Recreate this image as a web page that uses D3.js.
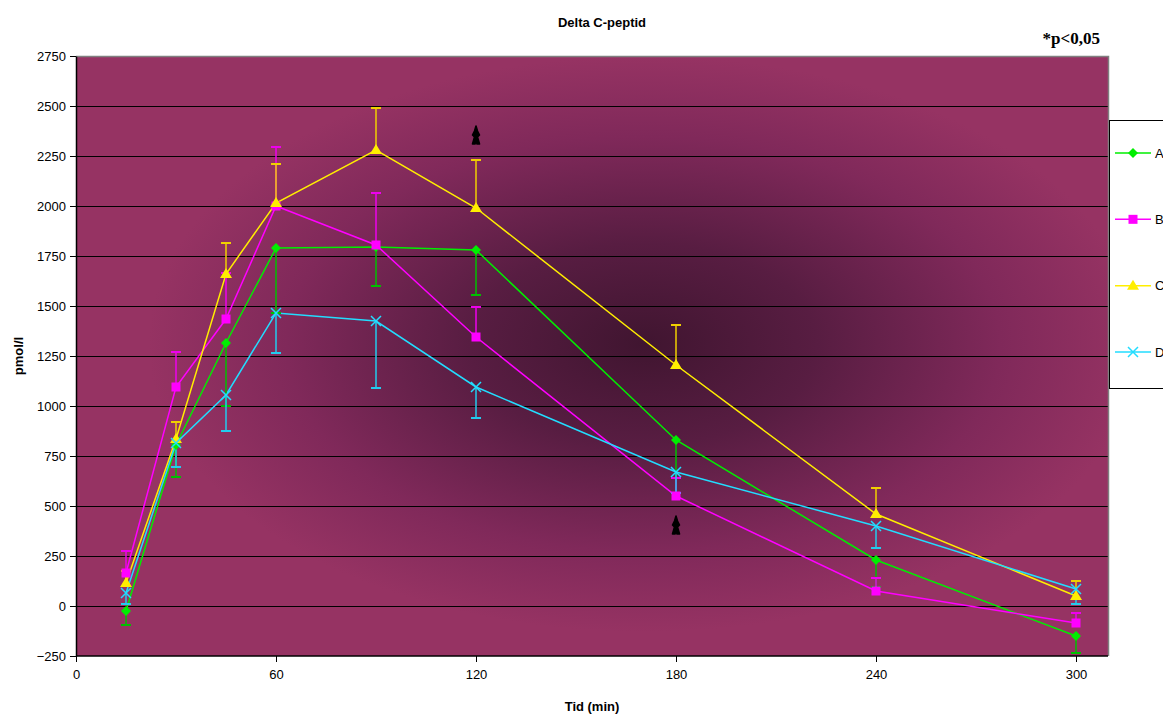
<!DOCTYPE html>
<html>
<head>
<meta charset="utf-8">
<script src="https://cdn.jsdelivr.net/npm/d3@7"></script>
<style>
  html, body { margin: 0; padding: 0; background: #fff; }
  svg { display: block; }
</style>
</head>
<body>
<svg id="chart" width="1163" height="718"></svg>
<script>
// Sampling times (min)
const times = [15, 30, 45, 60, 90, 120, 180, 240, 300];

// Mean delta C-peptide per group (pmol/l)
const seriesA = [-25, 805, 1315, 1790, 1795, 1780, 830, 230, -150];
const seriesB = [165, 1095, 1435, 2000, 1805, 1345, 550, 75, -85];
const seriesC = [115, 835, 1660, 2015, 2280, 1990, 1205, 460, 50];
const seriesD = [65, 815, 1055, 1465, 1425, 1095, 670, 400, 85];

// Error bar lengths (one-sided)
const errA = [70, 160, 315, 325, 195, 225, 190, 135, 85];   // drawn downward
const errB = [110, 175, 230, 295, 260, 150, 90, 65, 50];    // drawn upward
const errC = [60, 85, 155, 195, 210, 240, 200, 130, 75];    // drawn upward
const errD = [55, 120, 180, 200, 335, 155, 105, 110, 75];   // drawn downward

const seriesNames = ["A", "B", "C", "D"];
const xTicks = [0, 60, 120, 180, 240, 300];
const yTicks = [-250, 0, 250, 500, 750, 1000, 1250, 1500, 1750, 2000, 2250, 2500, 2750];

// Significance marks (time, level)
const sigMarks = [[120, 2350], [180, 400]];

const series = [
  { name: seriesNames[0], values: seriesA, err: errA, dir: -1, color: "#00ee00", errColor: "#00c000", marker: "diamond" },
  { name: seriesNames[1], values: seriesB, err: errB, dir: 1, color: "#ff00ff", errColor: "#ee00ee", marker: "square" },
  { name: seriesNames[2], values: seriesC, err: errC, dir: 1, color: "#ffee00", errColor: "#f0d000", marker: "triangle" },
  { name: seriesNames[3], values: seriesD, err: errD, dir: -1, color: "#22ddff", errColor: "#22ccee", marker: "x" }
];

const svg = d3.select("#chart");
const plot = { left: 76, top: 56, right: 1108, bottom: 656 };

const x = d3.scaleLinear().domain([0, 309.6]).range([plot.left, plot.right]);
const y = d3.scaleLinear().domain([-250, 2750]).range([plot.bottom, plot.top]);

// Plot background: plum with a dark radial centre
const defs = svg.append("defs");
const grad = defs.append("radialGradient")
  .attr("id", "bg")
  .attr("cx", 0.55).attr("cy", 0.48).attr("r", 0.48);
grad.append("stop").attr("offset", "0%").attr("stop-color", "#401530");
grad.append("stop").attr("offset", "35%").attr("stop-color", "#581d42");
grad.append("stop").attr("offset", "72%").attr("stop-color", "#80295a");
grad.append("stop").attr("offset", "100%").attr("stop-color", "#963363");

svg.append("rect")
  .attr("x", plot.left).attr("y", plot.top)
  .attr("width", plot.right - plot.left).attr("height", plot.bottom - plot.top)
  .attr("fill", "url(#bg)");

// Horizontal gridlines
svg.append("g")
  .selectAll("line")
  .data(yTicks.slice(1, -1))
  .join("line")
  .attr("x1", plot.left).attr("x2", plot.right)
  .attr("y1", d => Math.round(y(d)) + 0.5).attr("y2", d => Math.round(y(d)) + 0.5)
  .attr("stroke", "#000").attr("stroke-width", 1);

// Plot frame (top and right in grey)
svg.append("path")
  .attr("d", `M${plot.left},${plot.top + 0.5}H${plot.right + 0.5}V${plot.bottom}`)
  .attr("fill", "none").attr("stroke", "#808080").attr("stroke-width", 1.5);

// Axes
const yAxis = d3.axisLeft(y).tickValues(yTicks).tickFormat(d3.format("d"))
  .tickSize(6).tickSizeOuter(0).tickPadding(4);
const gy = svg.append("g").attr("transform", `translate(${plot.left},0)`).call(yAxis);
const xAxis = d3.axisBottom(x).tickValues(xTicks).tickFormat(d3.format("d"))
  .tickSize(6).tickSizeOuter(0).tickPadding(8);
const gx = svg.append("g").attr("transform", `translate(0,${plot.bottom})`).call(xAxis);
[gx, gy].forEach(g => {
  g.selectAll("text").attr("font-family", "Liberation Sans, Arial, sans-serif")
    .attr("font-size", 13).attr("fill", "#000");
  g.selectAll("line").attr("stroke", "#000");
  g.select(".domain").attr("stroke", "#000").attr("stroke-width", 1.5);
});
gx.select(".domain").attr("d", `M${plot.left},0H${plot.right}`);

// Lines
const line = d3.line().x((d, i) => x(times[i])).y(d => y(d));
series.forEach(s => {
  svg.append("path")
    .datum(s.values)
    .attr("d", line)
    .attr("fill", "none")
    .attr("stroke", s.color)
    .attr("stroke-width", 1.5);
});

// Error bars
series.forEach(s => {
  const g = svg.append("g");
  s.values.forEach((v, i) => {
    const cx = x(times[i]);
    const end = y(v + s.dir * s.err[i]);
    g.append("line").attr("x1", cx).attr("x2", cx)
      .attr("y1", y(v)).attr("y2", end)
      .attr("stroke", s.errColor).attr("stroke-width", 1.5);
    g.append("line").attr("x1", cx - 5).attr("x2", cx + 5)
      .attr("y1", end).attr("y2", end)
      .attr("stroke", s.errColor).attr("stroke-width", 2);
  });
});

// Marker shapes
function drawMarker(g, type, color, cx, cy) {
  if (type === "diamond") {
    g.append("path").attr("d", `M${cx},${cy - 5}L${cx + 5},${cy}L${cx},${cy + 5}L${cx - 5},${cy}Z`).attr("fill", color);
  } else if (type === "square") {
    g.append("rect").attr("x", cx - 4.5).attr("y", cy - 4.5).attr("width", 9).attr("height", 9).attr("fill", color);
  } else if (type === "triangle") {
    g.append("path").attr("d", `M${cx},${cy - 6}L${cx + 6},${cy + 4}L${cx - 6},${cy + 4}Z`).attr("fill", color);
  } else if (type === "x") {
    g.append("path").attr("d", `M${cx - 5},${cy - 5}L${cx + 5},${cy + 5}M${cx - 5},${cy + 5}L${cx + 5},${cy - 5}`)
      .attr("stroke", color).attr("stroke-width", 1.5).attr("fill", "none");
  }
}

series.forEach(s => {
  const g = svg.append("g");
  s.values.forEach((v, i) => drawMarker(g, s.marker, s.color, x(times[i]), y(v)));
});

// Significance marks: small bold black glyph
const sig = svg.append("g");
sigMarks.forEach(d => {
  const cx = x(d[0]), cy = y(d[1]);
  sig.append("path")
    .attr("d", `M${cx},${cy - 10}L${cx + 1.5},${cy - 5}L${cx + 3.5},${cy - 1}L${cx + 1.5},${cy + 1}` +
      `L${cx + 3.5},${cy + 8}L${cx + 1},${cy + 8}L${cx},${cy + 4}L${cx - 1},${cy + 8}` +
      `L${cx - 3.5},${cy + 8}L${cx - 1.5},${cy + 1}L${cx - 3.5},${cy - 1}L${cx - 1.5},${cy - 5}Z`)
    .attr("fill", "#000").attr("stroke", "#000").attr("stroke-width", 1.6)
    .attr("stroke-linejoin", "round");
});

// Title and annotations
svg.append("text").attr("x", 602).attr("y", 27).attr("text-anchor", "middle")
  .attr("font-family", "Liberation Sans, Arial, sans-serif").attr("font-weight", "bold").attr("font-size", 13)
  .text("Delta C-peptid");

svg.append("text").attr("x", 1100).attr("y", 44).attr("text-anchor", "end")
  .attr("font-family", "Liberation Serif, Times New Roman, serif").attr("font-weight", "bold").attr("font-size", 17)
  .text("*p<0,05");

svg.append("text").attr("x", 592).attr("y", 711).attr("text-anchor", "middle")
  .attr("font-family", "Liberation Sans, Arial, sans-serif").attr("font-weight", "bold").attr("font-size", 13)
  .text("Tid (min)");

svg.append("text").attr("transform", "translate(23,356) rotate(-90)").attr("text-anchor", "middle")
  .attr("font-family", "Liberation Sans, Arial, sans-serif").attr("font-weight", "bold").attr("font-size", 13)
  .text("pmol/l");

// Legend
const legend = svg.append("g");
legend.append("rect").attr("x", 1109.5).attr("y", 120.5).attr("width", 70).attr("height", 268)
  .attr("fill", "#fff").attr("stroke", "#000").attr("stroke-width", 1);
const legendY = d3.scalePoint().domain(seriesNames).range([153, 352]);
series.forEach(s => {
  const ly = legendY(s.name);
  legend.append("line").attr("x1", 1115).attr("x2", 1151).attr("y1", ly).attr("y2", ly)
    .attr("stroke", s.color).attr("stroke-width", 1.5);
  drawMarker(legend, s.marker, s.color, 1133, ly);
  legend.append("text").attr("x", 1155).attr("y", ly).attr("dominant-baseline", "central")
    .attr("font-family", "Liberation Sans, Arial, sans-serif").attr("font-size", 13)
    .text(s.name);
});
</script>
</body>
</html>
